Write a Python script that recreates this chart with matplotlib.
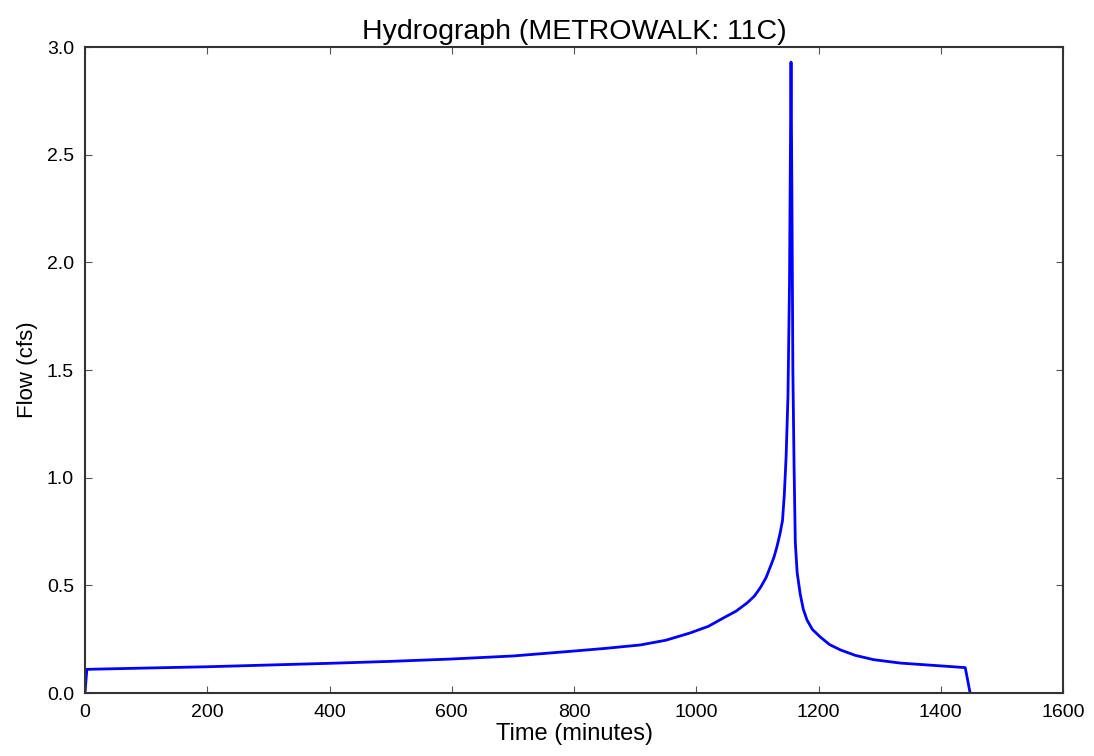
import matplotlib
matplotlib.use("Agg")
import matplotlib.pyplot as plt

plt.rcParams["font.family"] = ["Liberation Sans", "DejaVu Sans"]

time_min = [0, 3, 100, 200, 300, 400, 500, 600, 700, 800, 850, 908, 950, 990, 1020, 1044,
            1065, 1083, 1095, 1105, 1114, 1121, 1127, 1132, 1137, 1141, 1144, 1147, 1150,
            1152.5, 1155, 1156.5, 1158, 1160, 1162, 1165, 1170, 1175, 1181, 1190, 1203, 1218,
            1236, 1260, 1290, 1334, 1380, 1420, 1440, 1448]
flow_cfs = [0, 0.11, 0.116, 0.122, 0.13, 0.138, 0.147, 0.158, 0.172, 0.195, 0.207, 0.223,
            0.245, 0.279, 0.31, 0.348, 0.38, 0.418, 0.45, 0.49, 0.535, 0.585, 0.63, 0.68,
            0.74, 0.80, 0.92, 1.10, 1.38, 1.9, 2.93, 2.3, 1.5, 1.05, 0.70, 0.56, 0.46, 0.39,
            0.34, 0.295, 0.26, 0.225, 0.20, 0.175, 0.155, 0.139, 0.13, 0.122, 0.118, 0]
x_ticks = [0, 200, 400, 600, 800, 1000, 1200, 1400, 1600]
y_ticks = [0.0, 0.5, 1.0, 1.5, 2.0, 2.5, 3.0]

fig = plt.figure(figsize=(10.94, 7.56), dpi=100, facecolor="white")
ax = fig.add_axes([0.0777, 0.0833, 0.894, 0.8545])
ax.plot(time_min, flow_cfs, color="#0000ff", linewidth=2.0)
ax.set_xlim(0, 1600)
ax.set_ylim(0, 3.0)
ax.set_xticks(x_ticks)
ax.set_yticks(y_ticks)
ax.set_yticklabels([f"{v:.1f}" for v in y_ticks])
ax.tick_params(direction="in", top=True, right=True, length=5, labelsize=14, pad=8,
               color="#555555")
for s in ax.spines.values():
    s.set_linewidth(1.5)
    s.set_color("#333333")
ax.set_title("Hydrograph (METROWALK: 11C)", fontsize=20.5, pad=6)
ax.set_xlabel("Time (minutes)", fontsize=17, labelpad=1)
ax.set_ylabel("Flow (cfs)", fontsize=16, labelpad=6)
fig.savefig("out.png", dpi=100, facecolor="white")
